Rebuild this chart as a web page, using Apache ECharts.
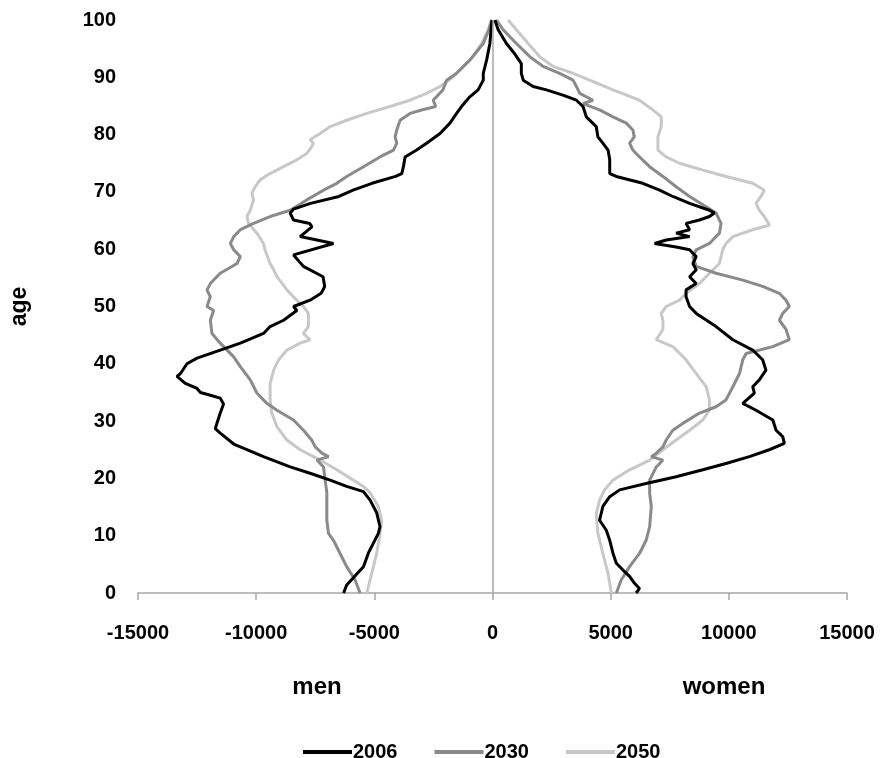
<!DOCTYPE html>
<html>
<head>
<meta charset="utf-8">
<script src="https://cdn.jsdelivr.net/npm/echarts@6/dist/echarts.min.js"></script>
<style>html,body{margin:0;padding:0;background:#fff}#c{width:881px;height:758px}</style>
</head>
<body>
<div id="c"></div>
<script>
// ---- data: [population, age] pairs ----
var yearNames = ['2006', '2030', '2050'];
var xTicks = [-15000, -10000, -5000, 0, 5000, 10000, 15000];
var yTicks = [0, 10, 20, 30, 40, 50, 60, 70, 80, 90, 100];

var men2006 = [[-6300,0],[-6170,1.4],[-5460,4.6],[-5250,7],[-4830,10.4],[-4760,11.6],[-4900,14],[-5180,16.2],[-5460,17.7],[-6170,18.6],[-6870,19.7],[-7720,20.9],[-8560,22],[-9690,23.8],[-10670,25.5],[-10950,26],[-11520,27.9],[-11730,28.7],[-11520,31.4],[-11380,33],[-11520,34],[-11940,34.5],[-12360,35],[-12500,35.7],[-13000,36.6],[-13350,37.8],[-13200,38.3],[-12930,40],[-12500,41],[-11520,42.4],[-10670,43.6],[-9690,45.3],[-9410,46.5],[-8840,47.6],[-8280,49.3],[-8420,50],[-7720,51.1],[-7250,52.3],[-7100,53.5],[-7170,55.2],[-8000,57],[-8420,59],[-6730,61],[-7430,61.6],[-8140,62.2],[-7640,63.9],[-7730,64.5],[-8420,65.1],[-8560,66.3],[-8420,67],[-7700,68],[-6500,69.2],[-5900,70.3],[-5100,71.5],[-4100,72.7],[-3840,73.2],[-3770,74.4],[-3700,76.1],[-3210,77.3],[-2790,78.5],[-2220,80.2],[-1800,82],[-1520,83.7],[-1310,84.9],[-960,86.6],[-610,87.8],[-390,89.5],[-390,90.7],[-250,93],[-110,95.9],[-40,99.4],[-20,100]];
var men2030 = [[-5600,0],[-5820,2.3],[-6170,4.6],[-6450,6.9],[-6730,9.2],[-6940,10.4],[-7010,12.7],[-7010,15.1],[-7010,17.5],[-7080,19.7],[-7150,22],[-7430,23.2],[-6940,23.8],[-7220,24.4],[-7500,25.5],[-7650,26.7],[-8000,28.4],[-8420,30.2],[-9120,31.9],[-9550,33.1],[-9970,34.9],[-10250,37.2],[-10670,39.5],[-10950,41.2],[-11520,43.6],[-11870,45.3],[-11940,47.6],[-11800,49.3],[-12080,50],[-11940,51.7],[-12080,52.9],[-11940,54],[-11520,55.8],[-10810,57.5],[-10670,58.7],[-10950,59.9],[-11090,61],[-10950,62.2],[-10670,63.4],[-10110,64.5],[-9410,65.7],[-8560,66.8],[-7860,68.6],[-7150,70.3],[-6590,71.5],[-6170,72.7],[-5460,74.4],[-4760,76.1],[-4190,77.3],[-4050,78.5],[-4120,79.6],[-4050,80.8],[-3910,82.5],[-3490,83.7],[-3000,84.3],[-2400,84.9],[-2510,86],[-2100,87.8],[-1940,89.5],[-1520,90.7],[-960,93],[-390,95.9],[-150,98.3],[-30,100]];
var men2050 = [[-5320,0],[-5180,2.3],[-5040,4.6],[-4900,6.9],[-4760,10.4],[-4690,12.7],[-4830,15.1],[-5180,17.5],[-5460,18.6],[-5890,19.7],[-6590,21.5],[-7290,23.2],[-8140,25],[-8700,26.7],[-9120,29],[-9340,31.4],[-9410,33.7],[-9410,36.6],[-9260,38.9],[-9050,40.7],[-8700,42.4],[-8140,43.6],[-7720,44.2],[-8000,45.3],[-7790,46.5],[-7790,48.8],[-8000,50],[-8280,51.1],[-8700,52.9],[-9120,55.2],[-9260,56.4],[-9410,57.5],[-9630,59.9],[-9690,61],[-9970,62.8],[-10320,64.5],[-10390,65.7],[-10250,66.8],[-10110,68.6],[-10180,69.8],[-10040,70.9],[-9830,72.1],[-9410,73.2],[-8840,74.4],[-8280,75.6],[-7860,76.7],[-7650,77.9],[-7580,78.5],[-7720,79.1],[-7290,80.2],[-6870,81.4],[-6170,82.5],[-5320,83.7],[-4340,84.9],[-3490,86],[-2790,87.2],[-2220,88.4],[-1660,90.1],[-1240,91.9],[-820,93.6],[-460,95.9],[-180,98.3],[-50,100]];
var women2006 = [[6080,0],[6220,0.8],[6010,1.7],[5800,2.9],[5520,4],[5240,5.2],[5100,6.9],[4960,9.2],[4810,11],[4530,12.7],[4670,15.1],[4960,16.8],[5380,18],[6500,19.1],[7770,20.3],[8900,21.5],[9880,22.6],[10870,23.8],[11710,25],[12350,26.1],[12280,27.3],[12000,28.4],[11860,30.2],[11150,31.9],[10590,33.1],[11080,34.9],[11010,36],[11290,37.2],[11570,38.9],[11430,40.7],[11010,42.4],[10170,44.2],[9460,46.5],[8620,48.8],[8340,50],[8190,51.7],[8190,52.9],[8620,54],[8340,55.2],[8620,56.4],[8480,57.5],[8620,58.7],[8340,59.9],[7770,60.4],[6860,61],[7350,61.6],[8340,62.2],[7770,62.8],[8340,63.4],[8190,64.5],[8760,65.1],[9180,65.7],[9390,66.3],[9180,66.8],[8340,68],[7630,69.2],[7070,70.3],[6360,71.5],[5240,72.7],[4960,73.2],[4960,75.6],[4890,77.3],[4670,78.5],[4460,79.6],[4390,81.4],[3970,83.1],[3830,84.9],[3550,86],[2980,86.9],[2280,87.8],[1720,88.4],[1300,89.5],[1220,90.7],[1220,92.4],[940,94.1],[590,95.9],[240,98.3],[100,100]];
var women2030 = [[5240,0],[5450,2.3],[5800,4.6],[6220,6.9],[6500,9.2],[6650,11.6],[6720,15.1],[6650,17.4],[6650,19.7],[6930,22],[7210,23.2],[6720,23.8],[6930,24.4],[7210,25.5],[7350,26.7],[7630,28.4],[8050,29.6],[8760,31.4],[9460,32.5],[9880,33.7],[10170,36],[10450,38.3],[10590,40.7],[10730,41.8],[11860,43],[12560,44.2],[12420,46],[12140,47.6],[12280,48.8],[12560,50],[12420,51.1],[12140,52.3],[11430,53.5],[10590,54.6],[9460,55.8],[8620,57],[8480,58.7],[8620,59.9],[9180,61],[9600,62.8],[9670,64.5],[9460,66.3],[9040,67.4],[8340,69.2],[7770,70.9],[7210,72.7],[6650,74.4],[6220,76.1],[5940,77.3],[5800,78.5],[6000,79.6],[5940,80.8],[5660,82],[5100,83.1],[4530,84.3],[3830,85.4],[4250,86],[3690,87.2],[3550,88.4],[3410,89.5],[2840,90.7],[2140,91.9],[1580,93.6],[1010,95.9],[450,98.3],[170,100]];
var women2050 = [[5030,0],[4890,3.4],[4670,6.9],[4460,10.4],[4390,13.8],[4530,16.2],[4740,18],[5100,19.7],[5800,21.5],[6650,23.2],[7210,25],[7770,26.7],[8340,28.4],[8900,30.2],[9180,31.9],[9180,33.7],[9040,36],[8620,38.3],[8190,40.7],[7630,43],[6930,44.2],[7210,46],[7210,47.6],[7140,48.8],[7350,50],[7910,51.1],[8190,52.3],[8760,54],[9180,55.8],[9600,57.5],[9740,59.9],[9880,61],[10170,62.2],[11010,63.4],[11720,64.2],[11500,65.7],[11290,66.8],[11150,68],[11360,69.2],[11500,70.3],[11010,71.5],[9880,72.7],[8900,73.8],[7910,75],[7350,76.1],[7000,77.3],[7000,79.6],[7140,81.4],[7140,83.1],[6790,84.3],[6220,86],[5100,87.8],[4110,89.5],[3410,90.7],[2560,91.9],[2000,93.6],[1510,95.9],[1010,98.3],[660,100]];

// ---- chart ----
var FONT = "'Liberation Sans', Arial, sans-serif";
var colors = {'2006': '#000000', '2030': '#8a8a8a', '2050': '#c8c8c8'};

function mk(name, data, extra) {
  var s = {
    name: name, type: 'line', data: data, symbol: 'none', showSymbol: false,
    smooth: false, silent: true, animation: false,
    lineStyle: {color: colors[name], width: 3},
    itemStyle: {color: colors[name]}
  };
  if (extra) for (var k in extra) s[k] = extra[k];
  return s;
}

var chart = echarts.init(document.getElementById('c'), null, {renderer: 'canvas'});
chart.setOption({
  animation: false,
  backgroundColor: '#ffffff',
  grid: {left: 137, right: 34, top: 20, bottom: 165, containLabel: false},
  xAxis: {
    type: 'value', min: xTicks[0], max: xTicks[xTicks.length - 1], interval: 5000,
    splitLine: {show: false},
    axisLine: {show: true, onZero: false, lineStyle: {color: '#a6a6a6', width: 1.5}},
    axisTick: {show: true, length: 7, lineStyle: {color: '#a6a6a6', width: 1.5}},
    axisLabel: {margin: 30, color: '#000', fontWeight: 'bold', fontSize: 20, fontFamily: FONT,
      formatter: function (v) { return String(v); }}
  },
  yAxis: {
    type: 'value', min: yTicks[0], max: yTicks[yTicks.length - 1], interval: 10,
    name: 'age', nameLocation: 'middle', nameGap: 107, nameRotate: 90,
    nameTextStyle: {color: '#000', fontWeight: 'bold', fontSize: 23, fontFamily: FONT},
    splitLine: {show: false},
    axisLine: {show: false},
    axisTick: {show: false},
    axisLabel: {margin: 22, color: '#000', fontWeight: 'bold', fontSize: 20, fontFamily: FONT,
      padding: [8, 0, 0, 0]}
  },
  legend: {
    data: yearNames, top: 737, left: 298, icon: 'rect',
    itemWidth: 49, itemHeight: 4, itemGap: 37,
    textStyle: {color: '#000', fontWeight: 'bold', fontSize: 20, fontFamily: FONT, padding: [0, 0, 0, -4]}
  },
  graphic: [
    {type: 'text', x: 317, y: 687, style: {text: 'men', fill: '#000', font: 'bold 24px ' + FONT, align: 'center', verticalAlign: 'middle'}},
    {type: 'text', x: 724, y: 687, style: {text: 'women', fill: '#000', font: 'bold 24px ' + FONT, align: 'center', verticalAlign: 'middle'}}
  ],
  series: [
    mk('2050', men2050, {
      markLine: {silent: true, symbol: 'none', label: {show: false},
        lineStyle: {color: '#a6a6a6', width: 1.5, type: 'solid'},
        data: [{xAxis: 0}]}
    }),
    mk('2050', women2050),
    mk('2030', men2030),
    mk('2030', women2030),
    mk('2006', men2006),
    mk('2006', women2006)
  ]
});
</script>
</body>
</html>
